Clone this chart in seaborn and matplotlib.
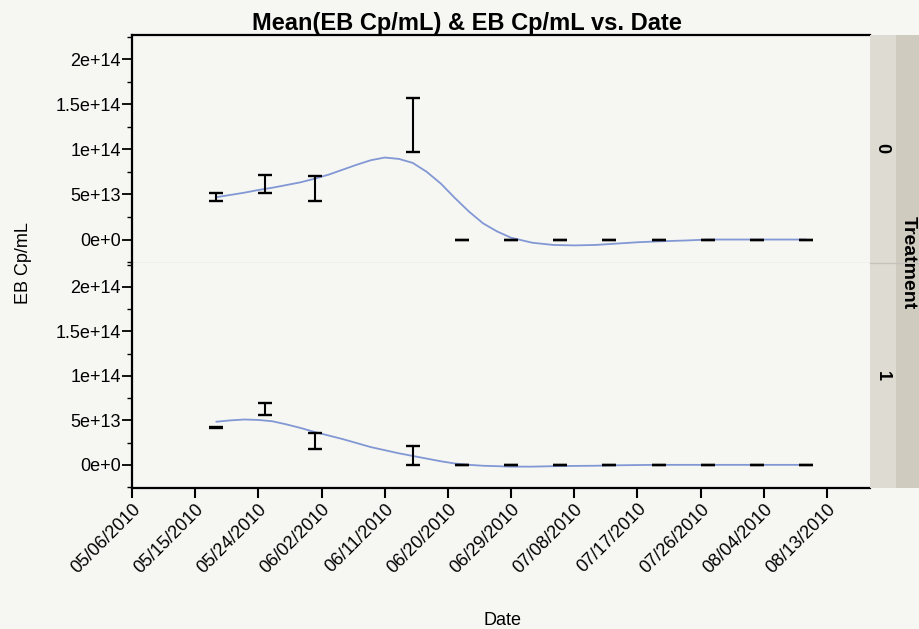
import numpy as np
import pandas as pd
import matplotlib
matplotlib.use("Agg")
import matplotlib.pyplot as plt
from matplotlib.patches import Rectangle
import seaborn as sns

# ------------------------------------------------------------
# data (values in copies/mL)
# ------------------------------------------------------------
sample_dates = ["2010-05-18", "2010-05-25", "2010-06-01", "2010-06-15", "2010-06-22",
                "2010-06-29", "2010-07-06", "2010-07-13", "2010-07-20", "2010-07-27",
                "2010-08-03", "2010-08-10"]

mean_t0 = [4.70e13, 6.20e13, 5.65e13, 1.27e14, 0, 0, 0, 0, 0, 0, 0, 0]
low_t0 = [4.27e13, 5.20e13, 4.30e13, 9.70e13, 0, 0, 0, 0, 0, 0, 0, 0]
high_t0 = [5.14e13, 7.20e13, 7.00e13, 1.57e14, 0, 0, 0, 0, 0, 0, 0, 0]

mean_t1 = [4.20e13, 6.30e13, 2.70e13, 1.00e13, 0, 0, 0, 0, 0, 0, 0, 0]
low_t1 = [4.15e13, 5.60e13, 1.80e13, 0.00e13, 0, 0, 0, 0, 0, 0, 0, 0]
high_t1 = [4.25e13, 7.00e13, 3.60e13, 2.10e13, 0, 0, 0, 0, 0, 0, 0, 0]

# smoother drawn through each panel (read every couple of days)
curve_dates = ["2010-05-18", "2010-05-20", "2010-05-22", "2010-05-24", "2010-05-26",
               "2010-05-28", "2010-05-30", "2010-06-01", "2010-06-03", "2010-06-05",
               "2010-06-07", "2010-06-09", "2010-06-11", "2010-06-13", "2010-06-15",
               "2010-06-17", "2010-06-19", "2010-06-21", "2010-06-23", "2010-06-25",
               "2010-06-27", "2010-06-29", "2010-07-02", "2010-07-05", "2010-07-08",
               "2010-07-11", "2010-07-14", "2010-07-17", "2010-07-20", "2010-07-24",
               "2010-07-27", "2010-08-03", "2010-08-10"]
curve_t0 = [4.70e13, 4.95e13, 5.20e13, 5.50e13, 5.75e13, 6.05e13, 6.35e13, 6.75e13, 7.20e13,
            7.75e13, 8.30e13, 8.80e13, 9.10e13, 8.95e13, 8.50e13, 7.50e13, 6.20e13, 4.60e13,
            3.10e13, 1.80e13, 0.90e13, 0.20e13, -0.35e13, -0.60e13, -0.65e13, -0.60e13,
            -0.45e13, -0.30e13, -0.20e13, -0.10e13, 0.0, 0.0, 0.0]
curve_t1 = [4.85e13, 5.00e13, 5.10e13, 5.05e13, 4.90e13, 4.55e13, 4.15e13, 3.70e13, 3.30e13,
            2.90e13, 2.45e13, 2.00e13, 1.65e13, 1.30e13, 1.00e13, 0.70e13, 0.40e13, 0.15e13,
            0.00e13, -0.10e13, -0.15e13, -0.20e13, -0.20e13, -0.15e13, -0.12e13, -0.10e13,
            -0.05e13, -0.02e13, 0.0, 0.0, 0.0, 0.0, 0.0]

tick_dates = ["2010-05-06", "2010-05-15", "2010-05-24", "2010-06-02", "2010-06-11",
              "2010-06-20", "2010-06-29", "2010-07-08", "2010-07-17", "2010-07-26",
              "2010-08-04", "2010-08-13"]
tick_labels = ["05/06/2010", "05/15/2010", "05/24/2010", "06/02/2010", "06/11/2010",
               "06/20/2010", "06/29/2010", "07/08/2010", "07/17/2010", "07/26/2010",
               "08/04/2010", "08/13/2010"]

y_ticks = [0, 5e13, 1e14, 1.5e14, 2e14]
y_labels = ["0e+0", "5e+13", "1e+14", "1.5e+14", "2e+14"]
treatments = ["0", "1"]

# ------------------------------------------------------------
sns.set_theme(style="ticks")
plt.rcParams["font.family"] = ["Liberation Sans", "DejaVu Sans"]
plt.rcParams["text.color"] = "black"
plt.rcParams["xtick.labelcolor"] = "black"
plt.rcParams["ytick.labelcolor"] = "black"

BG = "#f6f6f3"
CURVE = "#8298d4"
FS = 13

fig = plt.figure(figsize=(9.2, 6.29), dpi=100, facecolor=BG)
ax0 = fig.add_axes([0.1435, 0.5819, 0.8022, 0.3625])
ax1 = fig.add_axes([0.1435, 0.2242, 0.8022, 0.3577], sharex=ax0)

sd = pd.to_datetime(sample_dates)
cd = pd.to_datetime(curve_dates)

panels = [
    (ax0, mean_t0, low_t0, high_t0, curve_t0),
    (ax1, mean_t1, low_t1, high_t1, curve_t1),
]

for ax, m, lo, hi, cv in panels:
    ax.set_facecolor(BG)
    curve_df = pd.DataFrame({"Date": cd, "EB": cv})
    sns.lineplot(data=curve_df, x="Date", y="EB", ax=ax, color=CURVE, lw=1.3,
                 estimator=None, zorder=2)
    m = np.array(m)
    yerr = [m - np.array(lo), np.array(hi) - m]
    ax.errorbar(sd, m, yerr=yerr, fmt="none", ecolor="black", elinewidth=1.5,
                capsize=5, capthick=1.7, zorder=3)
    ax.set_ylim(-2.6e13, 2.27e14)
    ax.set_yticks(y_ticks)
    ax.set_yticklabels(y_labels, fontsize=FS)
    ax.set_yticks([-2.5e13, 2.5e13, 7.5e13, 1.25e14, 1.75e14, 2.25e14], minor=True)
    ax.tick_params(axis="y", which="major", direction="out", length=7, width=1.3,
                   color="black", pad=1)
    ax.tick_params(axis="y", which="minor", direction="out", length=3.5, width=1.0,
                   color="black")
    ax.set_xlabel("")
    ax.set_ylabel("")
    ax.spines["right"].set_visible(False)
    ax.spines["left"].set_color("black")
    ax.spines["left"].set_linewidth(1.6)

ax0.spines["top"].set_color("black")
ax0.spines["top"].set_linewidth(1.6)
ax0.spines["bottom"].set_color("#d2d2ce")
ax0.spines["bottom"].set_linewidth(1.0)
ax1.spines["top"].set_visible(False)
ax1.spines["bottom"].set_color("black")
ax1.spines["bottom"].set_linewidth(1.6)

ax0.tick_params(axis="x", which="both", bottom=False, labelbottom=False)
ax1.set_xlim(pd.Timestamp("2010-05-06"), pd.Timestamp("2010-08-19 03:00"))
ax1.set_xticks(pd.to_datetime(tick_dates))
ax1.set_xticklabels(tick_labels, rotation=45, ha="right", rotation_mode="anchor", fontsize=FS)
ax1.xaxis.set_minor_locator(matplotlib.ticker.NullLocator())
ax1.tick_params(axis="x", direction="out", length=7, width=1.5, color="black", pad=2)

# title, axis labels
fig.text(0.508, 0.962, "Mean(EB Cp/mL) & EB Cp/mL vs. Date", ha="center", va="center",
         fontsize=17, fontweight="bold")
fig.text(0.026, 0.582, "EB Cp/mL", rotation=90, ha="center", va="center", fontsize=FS)
fig.text(0.546, 0.014, "Date", ha="center", va="center", fontsize=FS)

# row strip on the right
fig.patches.append(Rectangle((870 / 920, 1 - 488 / 629), 26 / 920, 453 / 629,
                             transform=fig.transFigure, facecolor="#dddbd2", edgecolor="none"))
fig.patches.append(Rectangle((896 / 920, 1 - 488 / 629), 24 / 920, 453 / 629,
                             transform=fig.transFigure, facecolor="#cfcbbf", edgecolor="none"))
fig.add_artist(plt.Line2D([870 / 920, 1.0], [1 - 263 / 629] * 2, transform=fig.transFigure,
                          color="#c4c2ba", lw=1.0))
fig.text(882 / 920, 1 - 148 / 629, treatments[0], rotation=270, ha="center", va="center",
         fontsize=FS, fontweight="bold")
fig.text(882 / 920, 1 - 376 / 629, treatments[1], rotation=270, ha="center", va="center",
         fontsize=FS, fontweight="bold")
fig.text(908 / 920, 1 - 263 / 629, "Treatment", rotation=270, ha="center", va="center",
         fontsize=14, fontweight="bold")

fig.savefig("out.png", dpi=100, facecolor=BG)
